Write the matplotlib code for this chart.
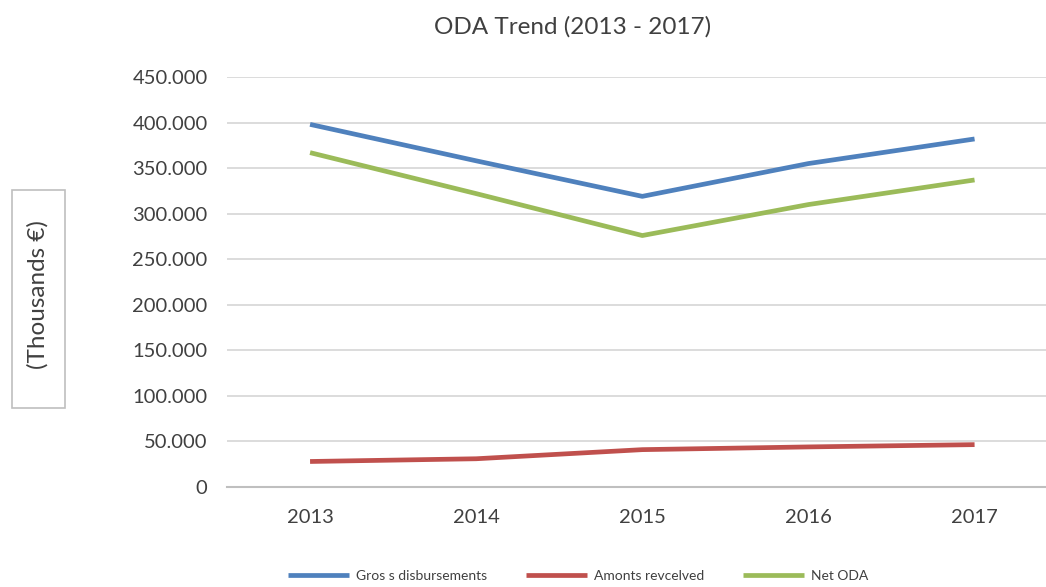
import matplotlib
matplotlib.use("Agg")
import matplotlib.pyplot as plt
from matplotlib.patches import Rectangle
from matplotlib.ticker import FuncFormatter, MultipleLocator

years = ["2013", "2014", "2015", "2016", "2017"]
gross = [398000, 358000, 319000, 355000, 382000]
received = [28000, 31000, 41000, 44000, 46500]
net_oda = [367000, 322000, 276000, 310000, 337000]
series_names = ["Gros s disbursements", "Amonts revcelved", "Net ODA"]
colors = ["#4F81BD", "#C0504D", "#9BBB59"]

plt.rcParams['font.family'] = ['Lato', 'DejaVu Sans']

fig = plt.figure(figsize=(10.46, 5.87), dpi=100)
ax = fig.add_axes([227/1046, 1-487/587, 1-227/1046, (487-77)/587])

x = list(range(len(years)))
for vals, name, c in zip([gross, received, net_oda], series_names, colors):
    ax.plot(x, vals, color=c, lw=3.4, label=name, solid_capstyle='butt')

ax.set_xlim(-0.5, 4.43)
ax.set_ylim(0, 450000)
ax.yaxis.set_major_locator(MultipleLocator(50000))
ax.yaxis.set_major_formatter(FuncFormatter(lambda v, p: "0" if v == 0 else f"{int(v):,}".replace(",", ".")))
ax.set_xticks(x)
ax.set_xticklabels(years)
ax.grid(axis='y', color='#D9D9D9', lw=1.3)
ax.set_axisbelow(True)
for s in ['top', 'right', 'left']:
    ax.spines[s].set_visible(False)
ax.spines['bottom'].set_color('#BFBFBF')
ax.spines['bottom'].set_linewidth(1.5)
ax.tick_params(axis='both', length=0, labelsize=14.5, colors='#404040')
ax.tick_params(axis='y', pad=14)
ax.tick_params(axis='x', pad=16)

fig.text(573/1046, 1-27/587, "ODA Trend (2013 - 2017)", ha='center', va='center',
         fontsize=17.5, color='#404040')

fig.add_artist(Rectangle((12/1046, 1-408/587), 53/1046, 218/587,
                         transform=fig.transFigure, fill=False, edgecolor='#BFBFBF', lw=1.2))
fig.text(38/1046, 1-295/587, "(Thousands €)", rotation=90, ha='center', va='center',
         fontsize=17.5, color='#404040')

leg = fig.legend(loc='center', bbox_to_anchor=(578/1046, 1-576/587), ncol=3, frameon=False,
                 fontsize=10, handlelength=4.4, columnspacing=2.8, handletextpad=0.5)
for t in leg.get_texts():
    t.set_color('#404040')

fig.savefig("out.png", dpi=100)
